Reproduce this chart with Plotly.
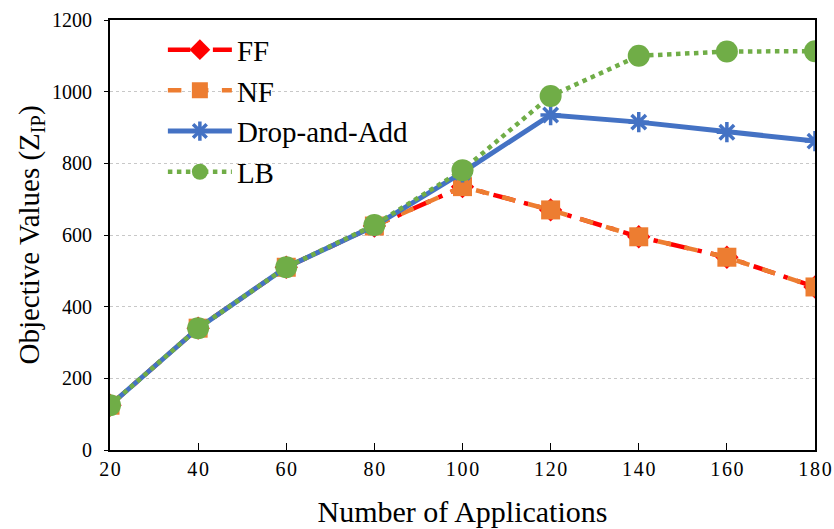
import plotly.graph_objects as go

apps = [20, 40, 60, 80, 100, 120, 140, 160, 180]
x_tick_labels = ["20", "40", "60", "80", "100", "120", "140", "160", "180"]
ff = [125, 340, 510, 625, 735, 670, 595, 538, 455]
nf = [125, 340, 510, 625, 735, 670, 595, 538, 455]
drop_add = [125, 340, 510, 625, 775, 935, 915, 887, 862]
lb = [125, 340, 510, 628, 781, 988, 1100, 1112, 1113]

font = "Liberation Serif, Times New Roman, serif"

fig = go.Figure()
fig.add_trace(go.Scatter(x=apps, y=ff, name="FF", mode="lines+markers",
                         line=dict(color="#FF0000", width=4.5, dash="longdashdot"),
                         marker=dict(symbol="diamond", size=18, color="#FF0000")))
fig.add_trace(go.Scatter(x=apps, y=nf, name="NF", mode="lines+markers",
                         line=dict(color="#ED7D31", width=4.5, dash="dash"),
                         marker=dict(symbol="square", size=19, color="#ED7D31")))
fig.add_trace(go.Scatter(x=apps, y=drop_add, name="Drop-and-Add", mode="lines+markers",
                         line=dict(color="#4472C4", width=5),
                         marker=dict(symbol="asterisk-open", size=17,
                                     line=dict(color="#4472C4", width=3.5))))
fig.add_trace(go.Scatter(x=apps, y=lb, name="LB", mode="lines+markers",
                         line=dict(color="#70AD47", width=4.5, dash="dot"),
                         marker=dict(symbol="circle", size=22, color="#70AD47")))

fig.update_layout(
    width=834, height=529,
    margin=dict(l=110, r=19, t=20, b=79),
    paper_bgcolor="white", plot_bgcolor="white",
    font=dict(family=font, color="black", size=20),
    showlegend=True,
    legend=dict(x=0.075, y=0.99, xanchor="left", yanchor="top",
                font=dict(size=29, family=font), itemwidth=64,
                tracegroupgap=0, bgcolor="rgba(0,0,0,0)"),
    xaxis=dict(range=[20, 180], tickvals=apps,
               ticktext=["\u200a".join(s) for s in x_tick_labels],
               ticks="inside", ticklen=7,
               tickwidth=1.2, tickcolor="black", automargin=False,
               showline=True, linecolor="black", linewidth=2, mirror=True,
               showgrid=False, zeroline=False,
               tickfont=dict(size=20, family=font),
               title=dict(text="Number of Applications", font=dict(size=30, family=font), standoff=22)),
    yaxis=dict(range=[0, 1200], dtick=200, ticks="outside", ticklen=4, tickwidth=1.2,
               tickcolor="black", automargin=False, ticklabelstandoff=8,
               showline=True, linecolor="black", linewidth=2, mirror=True,
               showgrid=True, gridcolor="#C8C8C8", griddash="dot", gridwidth=1,
               zeroline=False,
               tickfont=dict(size=20, family=font),
               title=dict(text="Objective Values (Z<sub>IP</sub>)", font=dict(size=29, family=font), standoff=4)),
)

fig.write_html("out.html", config={"displayModeBar": False},
               post_script="document.body.style.margin='0';document.body.style.overflow='hidden';")
